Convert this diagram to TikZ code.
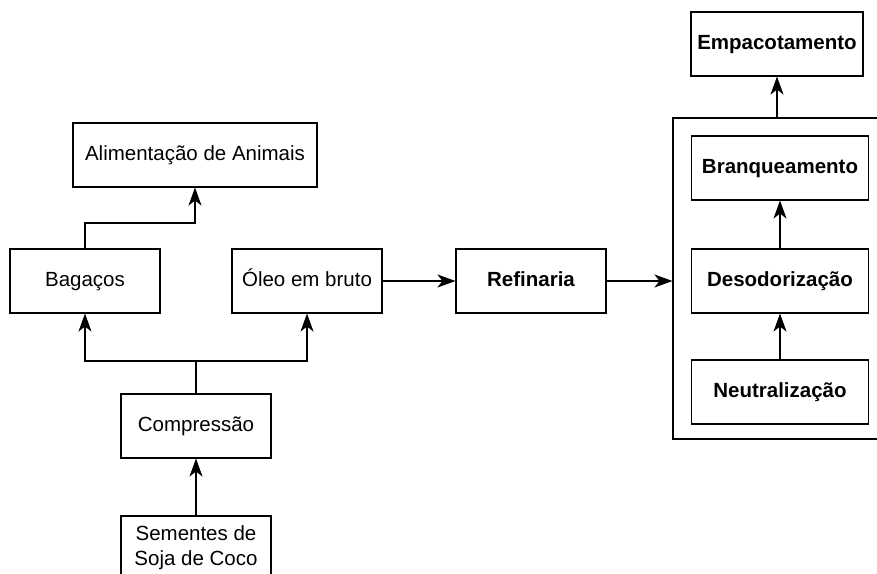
\documentclass[tikz,border=0pt]{standalone}
\usepackage{fontspec}
\setmainfont{Liberation Sans}
\usetikzlibrary{arrows.meta}

\begin{document}
\begin{tikzpicture}[
  x=1pt, y=-1pt,
  every node/.style={align=center, font=\fontsize{20.5}{25}\selectfont},
  box/.style={draw, line width=1.1pt, minimum width=150pt, minimum height=64pt, inner sep=0pt},
  stagebox/.style={box, font=\fontsize{20.5}{25}\selectfont\bfseries, minimum width=177pt},
  groupbox/.style={draw, line width=1.1pt, minimum width=217pt, minimum height=321pt, inner sep=0pt},
  flow/.style={-{Stealth[length=18pt, width=13pt, inset=5pt]}, line width=1.1pt},
  link/.style={line width=1.1pt}]

\clip (0,0) rectangle (877,573);

% Left side: raw material and pressing
\node[box] (sementes) at (196,548) {Sementes de\\Soja de Coco};
\node[box] (compressao) at (196,426) {Compress\~ao};
\node[box] (bagacos) at (85,281) {Baga\c{c}os\strut};
\node[box] (oleoBruto) at (307,281) {\'Oleo em bruto\strut};
\node[box, minimum width=244pt] (alimentacao) at (195,155) {Alimenta\c{c}\~ao de Animais};

% Refinery and its stages
\node[box, font=\fontsize{20.5}{25}\selectfont\bfseries] (refinaria) at (531,281) {Refinaria\strut};
\node[groupbox] (refinoGroup) at (781.5,278.5) {};
\node[stagebox] (neutralizacao) at (780,392) {Neutraliza\c{c}\~ao};
\node[stagebox] (desodorizacao) at (780,281) {Desodoriza\c{c}\~ao};
\node[stagebox] (branqueamento) at (780,168) {Branqueamento\strut};
\node[stagebox, minimum width=172pt] (empacotamento) at (777,44) {Empacotamento\strut};

\coordinate (split) at (196,361);
\coordinate (bagacosBend) at (195,223);

% Arrows
\draw [flow] (sementes) -- (compressao);
\draw [link] (compressao) -- (split);
\draw [flow] (split) -| (bagacos);
\draw [flow] (split) -| (oleoBruto.south);
\draw [flow] (bagacos.north) |- (bagacosBend) -- (alimentacao.south);
\draw [flow] (oleoBruto) -- (refinaria);
\draw [flow] (refinaria.east) -- (refinaria.east -| refinoGroup.west);
\draw [flow] (neutralizacao) -- (desodorizacao);
\draw [flow] (desodorizacao) -- (branqueamento);
\draw [flow] (refinoGroup.north -| empacotamento) -- (empacotamento);

\end{tikzpicture}
\end{document}
